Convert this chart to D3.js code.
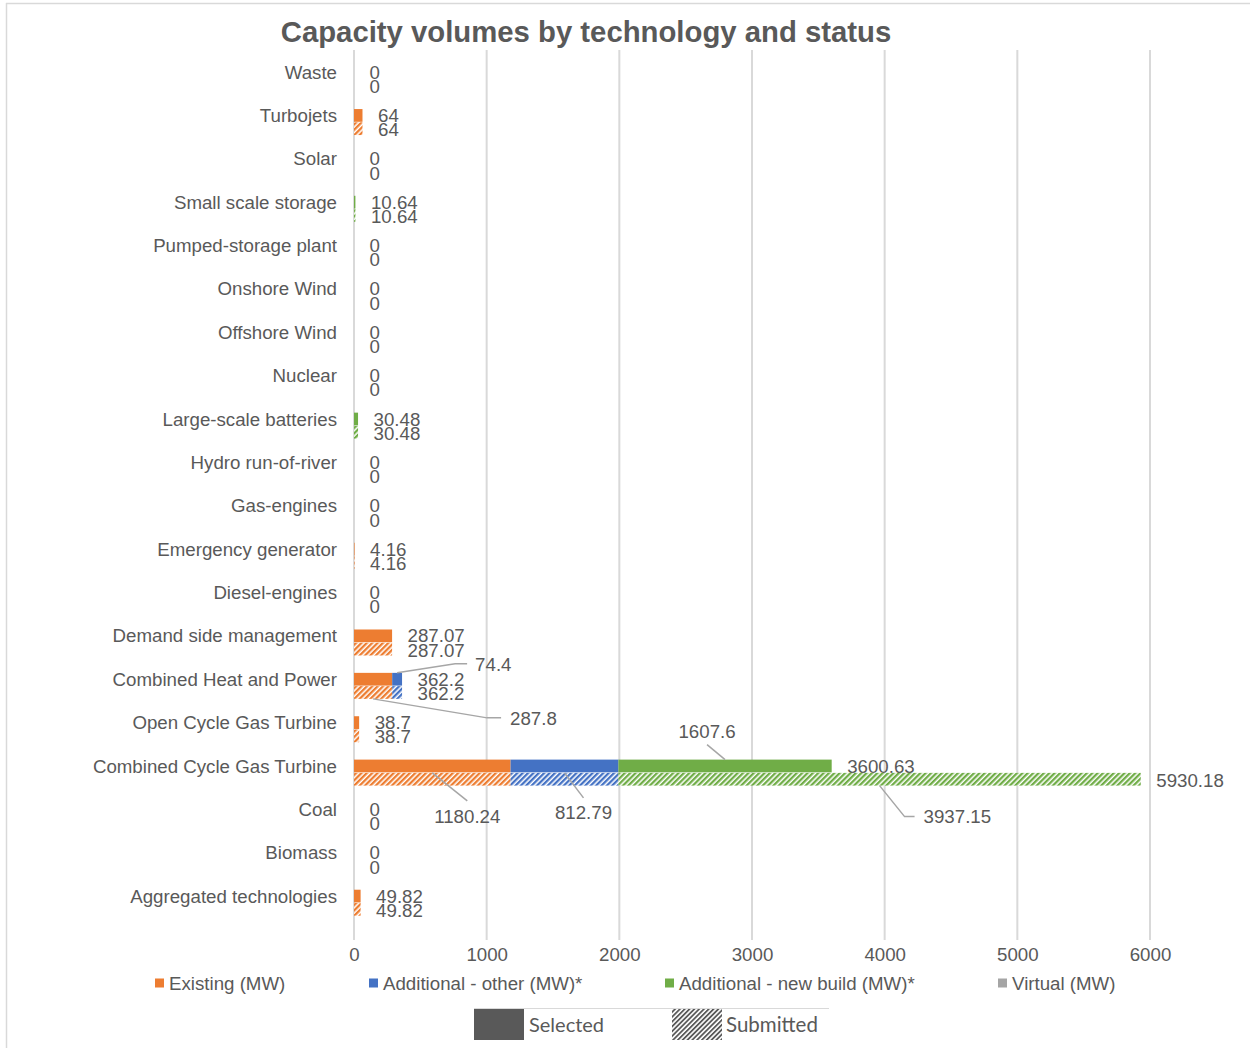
<!DOCTYPE html>
<html>
<head>
<meta charset="utf-8">
<script src="https://cdn.jsdelivr.net/npm/d3@7/dist/d3.min.js"></script>
<style>
  html, body { margin: 0; padding: 0; background: #fff; }
  svg { display: block; font-family: "Liberation Sans", Arial, sans-serif; }
</style>
</head>
<body>
<svg id="chart" width="1250" height="1048"></svg>
<script>
// Technologies, top to bottom
const categories = [
  "Waste", "Turbojets", "Solar", "Small scale storage", "Pumped-storage plant",
  "Onshore Wind", "Offshore Wind", "Nuclear", "Large-scale batteries",
  "Hydro run-of-river", "Gas-engines", "Emergency generator", "Diesel-engines",
  "Demand side management", "Combined Heat and Power", "Open Cycle Gas Turbine",
  "Combined Cycle Gas Turbine", "Coal", "Biomass", "Aggregated technologies"
];

const seriesNames = ["Existing (MW)", "Additional - other (MW)*", "Additional - new build (MW)*", "Virtual (MW)"];
const seriesColors = ["#ED7D31", "#4472C4", "#70AD47", "#A5A5A5"];
const statuses = ["Selected", "Submitted"];

// Selected capacity (MW)
const existingSelected = [0, 64, 0, 0, 0, 0, 0, 0, 0, 0, 0, 4.16, 0, 287.07, 287.8, 38.7, 1180.24, 0, 0, 49.82];
const otherSelected    = [0, 0, 0, 0, 0, 0, 0, 0, 0, 0, 0, 0, 0, 0, 74.4, 0, 812.79, 0, 0, 0];
const newBuildSelected = [0, 0, 0, 10.64, 0, 0, 0, 0, 30.48, 0, 0, 0, 0, 0, 0, 0, 1607.6, 0, 0, 0];
const virtualSelected  = [0, 0, 0, 0, 0, 0, 0, 0, 0, 0, 0, 0, 0, 0, 0, 0, 0, 0, 0, 0];

// Submitted capacity (MW)
const existingSubmitted = [0, 64, 0, 0, 0, 0, 0, 0, 0, 0, 0, 4.16, 0, 287.07, 287.8, 38.7, 1180.24, 0, 0, 49.82];
const otherSubmitted    = [0, 0, 0, 0, 0, 0, 0, 0, 0, 0, 0, 0, 0, 0, 74.4, 0, 812.79, 0, 0, 0];
const newBuildSubmitted = [0, 0, 0, 10.64, 0, 0, 0, 0, 30.48, 0, 0, 0, 0, 0, 0, 0, 3937.15, 0, 0, 0];
const virtualSubmitted  = [0, 0, 0, 0, 0, 0, 0, 0, 0, 0, 0, 0, 0, 0, 0, 0, 0, 0, 0, 0];

const xTicks = [0, 1000, 2000, 3000, 4000, 5000, 6000];

// Segment labels drawn with leader lines: [category, status, series index]
const calloutSegments = [
  ["Combined Heat and Power", "Selected", 1],
  ["Combined Heat and Power", "Submitted", 0],
  ["Combined Cycle Gas Turbine", "Submitted", 0],
  ["Combined Cycle Gas Turbine", "Submitted", 1],
  ["Combined Cycle Gas Turbine", "Selected", 2],
  ["Combined Cycle Gas Turbine", "Submitted", 2]
];

// ---- layout ----
const TEXT = "#595959";
const GRID = "#D9D9D9";
const LEADER = "#A6A6A6";
const FS = 18.7;

const svg = d3.select("#chart");
const defs = svg.append("defs");

const valuesByStatus = {
  Selected: [existingSelected, otherSelected, newBuildSelected, virtualSelected],
  Submitted: [existingSubmitted, otherSubmitted, newBuildSubmitted, virtualSubmitted]
};

// stacked rows
const rows = [];
categories.forEach((cat, i) => {
  statuses.forEach(status => {
    const vals = valuesByStatus[status].map(arr => arr[i]);
    const layers = d3.stack().keys(d3.range(vals.length))([vals]).map(s => s[0]);
    const total = +d3.sum(vals).toFixed(2);
    rows.push({ cat, status, vals, layers, total });
  });
});

const x = d3.scaleLinear().domain([0, 6000]).range([354, 1150]);
const y = d3.scaleBand().domain(categories).range([50, 50 + 20 * 43.37]);
const yStatus = d3.scaleBand().domain(statuses).range([y.bandwidth() / 2 - 6, y.bandwidth() / 2 + 20]).paddingInner(0.04);

// hatch patterns
seriesColors.forEach((c, k) => {
  const p = defs.append("pattern")
    .attr("id", "hatch" + k)
    .attr("patternUnits", "userSpaceOnUse")
    .attr("width", 3.8).attr("height", 3.8)
    .attr("patternTransform", "rotate(45)");
  p.append("rect").attr("width", 3.8).attr("height", 3.8).attr("fill", "#fff");
  p.append("rect").attr("width", 2.3).attr("height", 3.8).attr("fill", c);
});
const lp = defs.append("pattern")
  .attr("id", "hatchLegend")
  .attr("patternUnits", "userSpaceOnUse")
  .attr("width", 3.4).attr("height", 3.4)
  .attr("patternTransform", "rotate(45)");
lp.append("rect").attr("width", 3.4).attr("height", 3.4).attr("fill", "#fff");
lp.append("rect").attr("width", 1.8).attr("height", 3.4).attr("fill", "#595959");

// chart frame
svg.append("line").attr("x1", 6).attr("x2", 1250).attr("y1", 3.5).attr("y2", 3.5)
  .attr("stroke", GRID).attr("stroke-width", 1.5);
svg.append("line").attr("x1", 6.5).attr("x2", 6.5).attr("y1", 3).attr("y2", 1048)
  .attr("stroke", GRID).attr("stroke-width", 1.5);

// title
svg.append("text")
  .attr("x", 586).attr("y", 42)
  .attr("text-anchor", "middle")
  .attr("font-size", 29.3).attr("font-weight", "bold")
  .attr("fill", TEXT)
  .text("Capacity volumes by technology and status");

// gridlines
svg.append("g").selectAll("line").data(xTicks).join("line")
  .attr("x1", d => x(d)).attr("x2", d => x(d))
  .attr("y1", 50).attr("y2", 940)
  .attr("stroke", GRID).attr("stroke-width", 2);

// x axis tick labels
const xAxis = d3.axisBottom(x).tickValues(xTicks).tickFormat(d3.format("d")).tickSize(0).tickPadding(0);
const gx = svg.append("g").attr("transform", "translate(0,948)").call(xAxis);
gx.select(".domain").remove();
gx.selectAll("text").attr("font-size", FS).attr("fill", TEXT)
  .attr("font-family", "Liberation Sans, Arial, sans-serif").attr("dy", "0.72em");

// category labels
svg.append("g").selectAll("text").data(categories).join("text")
  .attr("x", 337)
  .attr("y", d => y(d) + yStatus("Selected") + yStatus.bandwidth() / 2)
  .attr("dy", "0.35em")
  .attr("text-anchor", "end")
  .attr("font-size", FS).attr("fill", TEXT)
  .text(d => d);

// bars
const rowG = svg.append("g").selectAll("g").data(rows).join("g")
  .attr("transform", d => `translate(0,${y(d.cat) + yStatus(d.status)})`);

rowG.selectAll("rect").data(d => d.layers.map((l, k) => ({ l, k, status: d.status }))).join("rect")
  .attr("x", d => x(d.l[0]))
  .attr("width", d => x(d.l[1]) - x(d.l[0]))
  .attr("y", 0)
  .attr("height", yStatus.bandwidth())
  .attr("fill", d => d.status === "Selected" ? seriesColors[d.k] : `url(#hatch${d.k})`);

// total labels
rowG.append("text")
  .attr("x", d => x(d.total) + 15.5)
  .attr("y", d => yStatus.bandwidth() / 2 + (d.status === "Selected" ? 0 : 1))
  .attr("dy", "0.35em")
  .attr("font-size", FS).attr("fill", TEXT)
  .text(d => String(d.total));

// segment callouts with leader lines (offsets of label and elbow from the segment anchor)
const calloutLayout = [
  { edge: "top",    elbow: [58, -9],  end: [70, -9],  text: [78, -8],  anchor: "start" },
  { edge: "bottom", elbow: [114, 19], end: [128, 19], text: [137, 20], anchor: "start" },
  { edge: "top",    elbow: [35, 28],  end: null,      text: [35, 44],  anchor: "middle" },
  { edge: "top",    elbow: [19, 25],  end: null,      text: [19, 40],  anchor: "middle" },
  { edge: "top",    elbow: [-18, -15], end: null,     text: [-18, -28], anchor: "middle" },
  { edge: "bottom", elbow: [25, 31],  end: [35, 31],  text: [44, 31],  anchor: "start" }
];

const cg = svg.append("g");
calloutSegments.forEach(([cat, status, k], idx) => {
  const row = rows.find(r => r.cat === cat && r.status === status);
  const seg = row.layers[k];
  const ax = x((seg[0] + seg[1]) / 2);
  const top = y(cat) + yStatus(status);
  const ay = calloutLayout[idx].edge === "top" ? top : top + yStatus.bandwidth();
  const L = calloutLayout[idx];
  const pts = [[ax, ay], [ax + L.elbow[0], ay + L.elbow[1]]];
  if (L.end) pts.push([ax + L.end[0], ay + L.end[1]]);
  cg.append("path")
    .attr("d", d3.line()(pts))
    .attr("fill", "none").attr("stroke", LEADER).attr("stroke-width", 1.5);
  cg.append("text")
    .attr("x", ax + L.text[0]).attr("y", ay + L.text[1])
    .attr("dy", "0.35em")
    .attr("text-anchor", L.anchor)
    .attr("font-size", FS).attr("fill", TEXT)
    .text(String(row.vals[k]));
});

// series legend
const legendX = [155, 369, 665, 998];
const lg = svg.append("g").selectAll("g").data(seriesNames).join("g")
  .attr("transform", (d, i) => `translate(${legendX[i]},983)`);
lg.append("rect").attr("x", 0).attr("y", -4.5).attr("width", 9).attr("height", 9)
  .attr("fill", (d, i) => seriesColors[i]);
lg.append("text").attr("x", 14).attr("dy", "0.35em")
  .attr("font-size", FS).attr("fill", TEXT).text(d => d);

// status legend
const sl = svg.append("g");
sl.append("line").attr("x1", 474).attr("x2", 829).attr("y1", 1008.5).attr("y2", 1008.5)
  .attr("stroke", GRID).attr("stroke-width", 1);
sl.append("rect").attr("x", 474).attr("y", 1009).attr("width", 50).attr("height", 31).attr("fill", "#595959");
sl.append("text").attr("x", 529).attr("y", 1025).attr("dy", "0.35em")
  .attr("font-family", "Lato, 'Open Sans', sans-serif")
  .attr("font-size", 20).attr("fill", TEXT).text("Selected");
sl.append("rect").attr("x", 672).attr("y", 1009).attr("width", 50).attr("height", 31).attr("fill", "url(#hatchLegend)");
sl.append("text").attr("x", 726).attr("y", 1025).attr("dy", "0.35em")
  .attr("font-family", "Lato, 'Open Sans', sans-serif")
  .attr("font-size", 20.5).attr("fill", TEXT).text("Submitted");
</script>
</body>
</html>
